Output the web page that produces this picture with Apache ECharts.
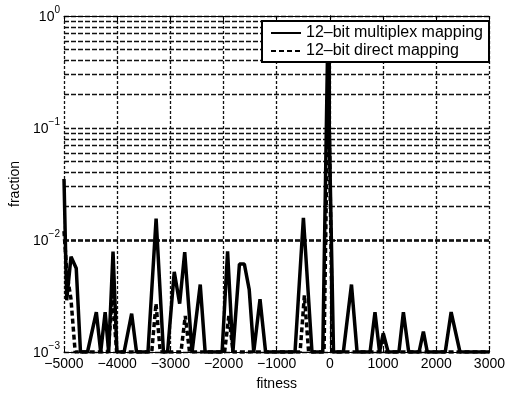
<!DOCTYPE html>
<html>
<head>
<meta charset="utf-8">
<script src="https://cdn.jsdelivr.net/npm/echarts@6/dist/echarts.min.js"></script>
<style>
html,body{margin:0;padding:0;background:#fff;}
#main{width:508px;height:396px;}
</style>
</head>
<body>
<div id="main"></div>
<script>
// ---- data; 0 means "no individuals" (drawn on the axis floor)
var seriesNames = ['12\u2013bit multiplex mapping', '12\u2013bit direct mapping'];
var multiplexX = [-5000,-4950,-4868,-4770,-4690,-4558,-4392,-4310,-4226,-4160,-4078,-4005,-3870,-3728,-3636,-3421,-3268,-3130,-3052,-2927,-2825,-2730,-2592,-2438,-2346,-2027,-1924,-1824,-1701,-1609,-1517,-1432,-1314,-1209,-656,-498,-337,-134,-42,68,253,406,511,756,848,934,1003,1095,1298,1382,1482,1677,1758,1832,2169,2280,2446,3000];
var multiplexY = [0.035,0.0029,0.0071,0.0056,0,0,0.00227,0,0.00227,0,0.0079,0,0,0.0022,0,0,0.0155,0,0,0.0052,0.0027,0.0078,0,0.0040,0,0,0.0079,0,0.0061,0.0061,0.0036,0,0.00296,0,0,0.0158,0,0,0.55,0,0,0.0040,0,0,0.00227,0,0.00147,0,0,0.00227,0,0,0.00152,0,0,0.00227,0,0];
var directX = [-5000,-4945,-4870,-4790,-4170,-4090,-4010,-3350,-3270,-3190,-2800,-2720,-2640,-1980,-1900,-1820,-560,-480,-400,-110,-30,50,3000];
var directY = [0.012,0.005,0.003,0,0,0.0032,0,0,0.0027,0,0,0.0021,0,0,0.0021,0,0,0.0032,0,0,0.4,0,0];
var xTicks = {min: -5000, max: 3000, step: 1000};
var yDecades = {min: 0.001, max: 1};
var minorGrid = [0.002,0.003,0.004,0.005,0.006,0.007,0.008,0.009,0.02,0.03,0.04,0.05,0.06,0.07,0.08,0.09,0.2,0.3,0.4,0.5,0.6,0.7,0.8,0.9];
var ZERO_FLOOR = 0.001;

function pairs(xs, ys) {
  return xs.map(function (x, i) { return [x, ys[i] > 0 ? ys[i] : ZERO_FLOOR]; });
}

var FONT = 'Liberation Sans, Arial, Helvetica, sans-serif';
var chart = echarts.init(document.getElementById('main'), null, {renderer: 'canvas'});

var hGrid = {type: [5, 2], color: '#111', width: 1.3};
var vGrid = {type: [3, 2], color: '#111', width: 1.3};

function yLabel(v) {
  var e = Math.round(Math.log10(v));
  var s = e < 0 ? '\u2212' + (-e) : '' + e;
  return '{b|10}{s|' + s + '}';
}
var yRich = {
  b: {fontSize: 14, fontFamily: FONT, color: '#000', verticalAlign: 'bottom', lineHeight: 16},
  s: {fontSize: 10, fontFamily: FONT, color: '#000', verticalAlign: 'bottom', lineHeight: 10, padding: [0, 0, 9, 0]}
};

var option = {
  animation: false,
  backgroundColor: '#fff',
  grid: {left: 56, right: 18, top: 16, bottom: 37, containLabel: false},
  legend: {
    data: seriesNames,
    orient: 'vertical',
    left: 262, top: 21,
    backgroundColor: '#fff',
    borderColor: '#000', borderWidth: 2,
    padding: [4, 6, 3, 8],
    itemGap: 2,
    itemWidth: 30, itemHeight: 14,
    itemStyle: {opacity: 0},
    textStyle: {fontSize: 16, fontFamily: FONT, color: '#000', lineHeight: 16},
    z: 10
  },
  xAxis: [{
    type: 'value', min: xTicks.min, max: xTicks.max, interval: xTicks.step,
    name: 'fitness', nameLocation: 'middle', nameGap: 25,
    nameTextStyle: {fontSize: 14, fontFamily: FONT, color: '#000'},
    axisLine: {lineStyle: {color: '#000', width: 1}},
    axisTick: {inside: true, length: 6, lineStyle: {color: '#000'}},
    axisLabel: {fontSize: 14, fontFamily: FONT, color: '#000', margin: 5,
      formatter: function (v) { return String(v).replace('-', '\u2212'); }},
    splitLine: {show: true, lineStyle: vGrid}
  }, {
    type: 'value', position: 'top', min: xTicks.min, max: xTicks.max, interval: xTicks.step,
    axisLine: {show: true, lineStyle: {color: '#000', width: 1}},
    axisTick: {inside: true, length: 6, lineStyle: {color: '#000'}},
    axisLabel: {show: false}, splitLine: {show: false}
  }],
  yAxis: [{
    type: 'log', logBase: 10, min: yDecades.min, max: yDecades.max,
    name: 'fraction', nameLocation: 'middle', nameGap: 42,
    nameTextStyle: {fontSize: 14, fontFamily: FONT, color: '#000'},
    axisLine: {show: true, lineStyle: {color: '#000', width: 1}},
    axisTick: {inside: true, length: 6, lineStyle: {color: '#000'}},
    axisLabel: {formatter: yLabel, rich: yRich, margin: 4},
    splitLine: {show: true, lineStyle: hGrid}
  }, {
    type: 'log', logBase: 10, min: yDecades.min, max: yDecades.max, position: 'right',
    axisLine: {show: true, lineStyle: {color: '#000', width: 1}},
    axisTick: {inside: true, length: 6, lineStyle: {color: '#000'}},
    axisLabel: {show: false}, splitLine: {show: false}
  }],
  series: [{
    name: seriesNames[0], type: 'line', symbol: 'none', clip: true,
    data: pairs(multiplexX, multiplexY),
    lineStyle: {color: '#000', width: 3.5, type: 'solid'},
    itemStyle: {color: '#000'},
    markLine: {
      silent: true, symbol: ['none', 'none'], label: {show: false},
      lineStyle: {type: [5, 2], color: '#111', width: 1.3},
      data: minorGrid.map(function (v) { return {yAxis: v}; }),
      z: 1
    },
    z: 3
  }, {
    name: seriesNames[1], type: 'line', symbol: 'none', clip: true,
    data: pairs(directX, directY),
    lineStyle: {color: '#000', width: 3.5, type: [5, 3]},
    itemStyle: {color: '#000'},
    z: 4
  }]
};
chart.setOption(option);
</script>
</body>
</html>
